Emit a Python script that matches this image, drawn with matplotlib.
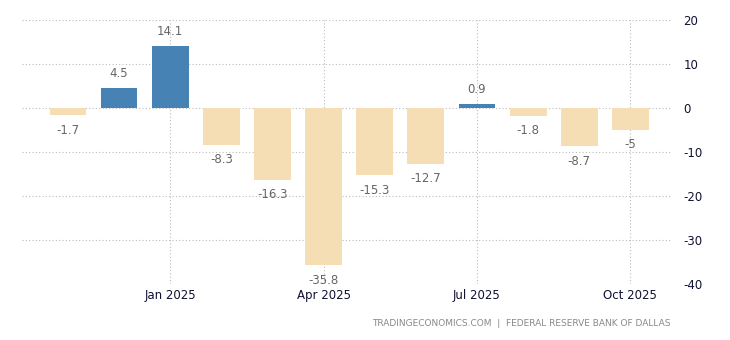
#!/usr/bin/env python3
# -*- coding: utf-8 -*-
"""
Dallas Fed index - monthly bars, positive vs negative
"""
import matplotlib
matplotlib.use('Agg')
import matplotlib.pyplot as plt

months = ['Nov 2024', 'Dec 2024', 'Jan 2025', 'Feb 2025', 'Mar 2025', 'Apr 2025',
          'May 2025', 'Jun 2025', 'Jul 2025', 'Aug 2025', 'Sep 2025', 'Oct 2025']
values = [-1.7, 4.5, 14.1, -8.3, -16.3, -35.8, -15.3, -12.7, 0.9, -1.8, -8.7, -5]
labels = ['-1.7', '4.5', '14.1', '-8.3', '-16.3', '-35.8', '-15.3', '-12.7', '0.9', '-1.8', '-8.7', '-5']
tick_months = ['Jan 2025', 'Apr 2025', 'Jul 2025', 'Oct 2025']
yticks = [20, 10, 0, -10, -20, -30, -40]

fig = plt.figure(figsize=(7.3, 3.4), dpi=100)
ax = fig.add_axes([0.030, 0.165, 0.891, 0.776])

x = list(range(len(values)))
colors = ['#4682b4' if v > 0 else '#f5deb3' for v in values]
ax.bar(x, values, width=0.72, color=colors, zorder=2)

for i, v in enumerate(values):
    if v >= 0:
        ax.annotate(labels[i], (i, v), xytext=(0, 6), textcoords='offset points',
                    ha='center', va='bottom', color='#666666', fontsize=8.5)
    else:
        ax.annotate(labels[i], (i, v), xytext=(0, -6), textcoords='offset points',
                    ha='center', va='top', color='#666666', fontsize=8.5)

ax.set_xlim(-0.9, 11.82)
ax.set_ylim(-40, 20)
ax.set_yticks(yticks)
ax.set_yticklabels([str(t) for t in yticks])
ax.yaxis.tick_right()
ax.set_xticks([months.index(m) for m in tick_months])
ax.set_xticklabels(tick_months)
ax.tick_params(axis='both', length=0, labelsize=8.5, colors='#111133')
ax.tick_params(axis='y', pad=8)
ax.tick_params(axis='x', pad=4)

ax.grid(True, linestyle=(0, (1, 2)), color='#bbbbbb', linewidth=0.8, zorder=0)
for s in ax.spines.values():
    s.set_visible(False)

fig.text(0.918, 0.05, 'TRADINGECONOMICS.COM  |  FEDERAL RESERVE BANK OF DALLAS',
         ha='right', va='center', fontsize=6.5, color='#888888')

plt.savefig('out.png', dpi=100)
